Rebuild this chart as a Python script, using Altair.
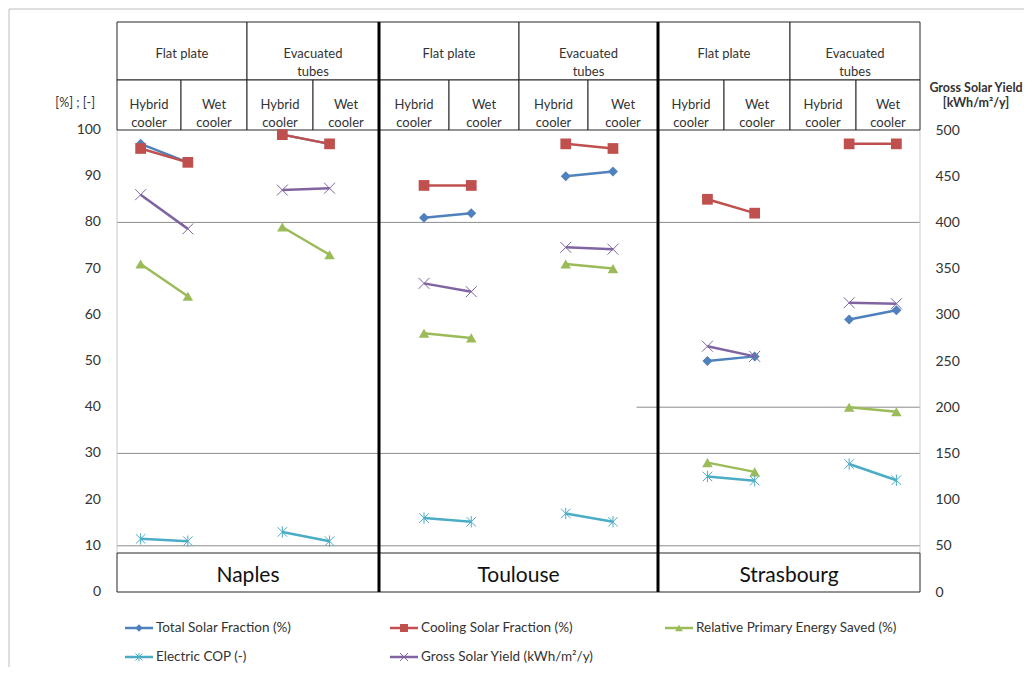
import altair as alt
import pandas as pd

# ---------------- data ----------------
cities = ["Naples", "Toulouse", "Strasbourg"]
collectors = ["Flat plate", "Evacuated\ntubes"]
coolers = ["Hybrid\ncooler", "Wet\ncooler"]

# order: per city -> Flat plate (Hybrid, Wet), Evacuated tubes (Hybrid, Wet)
total_solar_fraction = [97, 93, 99, 97, 81, 82, 90, 91, 50, 51, 59, 61]
cooling_solar_fraction = [96, 93, 99, 97, 88, 88, 97, 96, 85, 82, 97, 97]
primary_energy_saved = [71, 64, 79, 73, 56, 55, 71, 70, 28, 26, 40, 39]
electric_cop = [11.5, 11, 13, 11, 16, 15.2, 17, 15.2, 25, 24.1, 27.7, 24.2]
gross_solar_yield = [430, 393, 435, 437, 334, 325, 373, 371, 266, 255, 313, 312]

series_names = [
    "Total Solar Fraction (%)",
    "Cooling Solar Fraction (%)",
    "Relative Primary Energy Saved (%)",
    "Electric COP (-)",
    "Gross Solar Yield (kWh/m²/y)",
]

left_ticks = list(range(0, 101, 10))
right_ticks = list(range(0, 501, 50))

# ---------------- layout / style ----------------
FONT = "Lato"
TXT = "#333333"
W, H = 803, 570
PX_X = W / 17.0
PX_Y = 4.62
YMAX = H / PX_Y
slots = [0, 1, 3, 4, 6, 7, 9, 10, 12, 13, 15, 16]
colors = ["#4F81BD", "#C0504D", "#9BBB59", "#4BACC6", "#8064A2"]
XSHAPE = "M-1,-1L1,1M-1,1L1,-1"
STAR = "M-1,-1L1,1M-1,1L1,-1M0,-1.2L0,1.2"
shapes = ["diamond", "square", "triangle-up", STAR, XSHAPE]
sizes = [100, 115, 110, 90, 120]
filled = [True, True, True, False, False]

def ux(px):
    return (px - 117) / PX_X

def uy(px):
    return (592 - px) / PX_Y

XS = alt.Scale(domain=[0, 17], nice=False, zero=False)
YS = alt.Scale(domain=[0, YMAX], nice=False, zero=False)
YS_R = alt.Scale(domain=[0, YMAX * 5], nice=False, zero=False)

values = [total_solar_fraction, cooling_solar_fraction, primary_energy_saved,
          electric_cop, gross_solar_yield]
rows = []
for s, vals in zip(series_names, values):
    for j, v in enumerate(vals):
        rows.append({"series": s, "slot": slots[j] + 0.5, "value": v, "group": j // 2})
df = pd.DataFrame(rows)

# ---------------- table ----------------
city_edges = [[0, ux(181), ux(247), ux(313), ux(379)],
              [ux(379), ux(449), ux(519), ux(588), ux(658)],
              [ux(658), ux(724), ux(790), ux(856), 17]]
r1_top, r1_bot, r2_bot = YMAX, uy(80), 100
box_top = uy(553)

top_cells, sub_cells, city_boxes = [], [], []
for ci, c in enumerate(cities):
    e = city_edges[ci]
    for k, col in enumerate(collectors):
        top_cells.append({"x": e[2 * k], "x2": e[2 * k + 2], "label": col})
        for m, cool in enumerate(coolers):
            sub_cells.append({"x": e[2 * k + m], "x2": e[2 * k + m + 1], "label": cool})
    city_boxes.append({"x": e[0], "x2": e[4], "label": c})
top_df = pd.DataFrame(top_cells)
top_df["xm"] = (top_df.x + top_df.x2) / 2
sub_df = pd.DataFrame(sub_cells)
sub_df["xm"] = (sub_df.x + sub_df.x2) / 2
box_df = pd.DataFrame(city_boxes)
box_df["xm"] = (box_df.x + box_df.x2) / 2

X = lambda f: alt.X(f, scale=XS, axis=None)
Y = lambda f: alt.Y(f, scale=YS, axis=None)

layers = []

# frame lines
frame = pd.DataFrame([
    {"x": ux(9), "x2": ux(1031), "y": uy(9), "y2": uy(9)},
    {"x": ux(9), "x2": ux(9), "y": uy(9), "y2": uy(667)},
])
layers.append(alt.Chart(frame).mark_rule(color="#bfbfbf", strokeWidth=1).encode(
    x=X("x:Q"), x2="x2:Q", y=Y("y:Q"), y2="y2:Q"))

# gridlines
grid = pd.DataFrame([
    {"x": 0, "x2": 17, "y": 10},
    {"x": 0, "x2": 17, "y": 30},
    {"x": 0, "x2": 17, "y": 80},
    {"x": 11.0, "x2": 17, "y": 40},
])
layers.append(alt.Chart(grid).mark_rule(color="#8c8c8c", strokeWidth=1).encode(
    x=X("x:Q"), x2="x2:Q", y=Y("y:Q")))

# axis lines (light)
axl = pd.DataFrame([{"x": 0, "y": box_top, "y2": 100}, {"x": 17, "y": box_top, "y2": 100}])
layers.append(alt.Chart(axl).mark_rule(color="#c8c8c8", strokeWidth=1).encode(
    x=X("x:Q"), y=Y("y:Q"), y2="y2:Q"))

# left axis labels
axis_df = pd.DataFrame({"v": left_ticks})
axis_df["x"] = ux(101)
layers.append(alt.Chart(axis_df).mark_text(font=FONT, fontSize=14, color=TXT, align="right",
    baseline="middle").encode(x=X("x:Q"), y=Y("v:Q"), text="v:Q"))

# table rects
for d, y1, y2 in [(top_df, r1_bot, r1_top), (sub_df, r2_bot, r1_bot), (box_df, 0, box_top)]:
    layers.append(alt.Chart(d).mark_rect(fill="white", stroke="#262626", strokeWidth=1).encode(
        x=X("x:Q"), x2="x2:Q", y=alt.Y("y1:Q", scale=YS, axis=None), y2="y2:Q"
    ).transform_calculate(y1=str(y1), y2=str(y2)))

layers.append(alt.Chart(top_df).mark_text(font=FONT, fontSize=13, color=TXT, lineBreak="\n",
    lineHeight=18, baseline="middle").encode(
    x=X("xm:Q"), y=alt.Y("yy:Q", scale=YS, axis=None), text="label:N"
).transform_calculate(yy=str(uy(54))))
layers.append(alt.Chart(sub_df).mark_text(font=FONT, fontSize=13, color=TXT, lineBreak="\n",
    lineHeight=18, baseline="middle").encode(
    x=X("xm:Q"), y=alt.Y("yy:Q", scale=YS, axis=None), text="label:N"
).transform_calculate(yy=str(uy(105))))
layers.append(alt.Chart(box_df).mark_text(font=FONT, fontSize=21, color="#111111",
    baseline="middle").encode(
    x=X("xm:Q"), y=alt.Y("yy:Q", scale=YS, axis=None), text="label:N"
).transform_calculate(yy=str(uy(576))))

# thick separators
sep = pd.DataFrame({"x": [city_edges[1][0], city_edges[2][0]]})
layers.append(alt.Chart(sep).mark_rule(color="black", strokeWidth=3).encode(
    x=X("x:Q"), y=alt.Y("y0:Q", scale=YS, axis=None), y2="y1:Q"
).transform_calculate(y0="0", y1=str(YMAX)))

# axis titles
titles = pd.DataFrame([
    {"x": ux(95), "y": uy(103), "t": "[%] ; [-]", "w": "normal"},
    {"x": ux(976), "y": uy(88), "t": "Gross Solar Yield", "w": "bold"},
    {"x": ux(976), "y": uy(103), "t": "[kWh/m²/y]", "w": "bold"},
])
layers.append(alt.Chart(titles).transform_filter(alt.datum.w == "normal").mark_text(
    font=FONT, fontSize=12.5, color=TXT, align="right", baseline="middle").encode(
    x=X("x:Q"), y=Y("y:Q"), text="t:N"))
layers.append(alt.Chart(titles).transform_filter(alt.datum.w == "bold").mark_text(
    font=FONT, fontSize=12.5, color=TXT, align="center", baseline="middle",
    fontWeight="bold").encode(x=X("x:Q"), y=Y("y:Q"), text="t:N"))

# data series (left axis)
for i in range(4):
    name = series_names[i]
    base = alt.Chart(df).transform_filter(alt.datum.series == name)
    layers.append(base.mark_line(color=colors[i], strokeWidth=2.5).encode(
        x=X("slot:Q"), y=Y("value:Q"), detail="group:N"))
    layers.append(base.mark_point(shape=shapes[i], filled=filled[i], size=sizes[i],
        color=colors[i], opacity=1, strokeWidth=1).encode(
        x=X("slot:Q"), y=Y("value:Q")))

# legend
leg_pos = [(125, 628), (390, 628), (665, 628), (125, 657), (390, 657)]
leg = pd.DataFrame([{"series": s, "lx": ux(p[0]), "lx2": ux(p[0] + 28), "mx": ux(p[0] + 14),
                     "tx": ux(p[0] + 31), "ly": uy(p[1])} for s, p in zip(series_names, leg_pos)])
for i, s in enumerate(series_names):
    b = alt.Chart(leg).transform_filter(alt.datum.series == s)
    layers.append(b.mark_rule(color=colors[i], strokeWidth=2.5).encode(
        x=X("lx:Q"), x2="lx2:Q", y=Y("ly:Q")))
    layers.append(b.mark_point(shape=shapes[i], filled=filled[i], size=sizes[i] * 0.55,
        color=colors[i], opacity=1, strokeWidth=1).encode(x=X("mx:Q"), y=Y("ly:Q")))
layers.append(alt.Chart(leg).mark_text(font=FONT, fontSize=13.5, color=TXT, align="left",
    baseline="middle").encode(x=X("tx:Q"), y=Y("ly:Q"), text="series:N"))

left = alt.layer(*layers)

# right axis series: Gross Solar Yield
gsy = alt.Chart(df).transform_filter(alt.datum.series == series_names[4])
right = alt.layer(
    gsy.mark_line(color=colors[4], strokeWidth=2.5).encode(
        x=X("slot:Q"),
        y=alt.Y("value:Q", scale=YS_R, axis=alt.Axis(orient="right", values=right_ticks,
            domain=False, ticks=False, grid=False, title=None, labelPadding=15,
            labelFontSize=14, labelFont=FONT, labelColor=TXT)),
        detail="group:N"),
    gsy.mark_point(shape=XSHAPE, filled=False, size=sizes[4], color=colors[4], opacity=1,
        strokeWidth=1).encode(x=X("slot:Q"), y=alt.Y("value:Q", scale=YS_R)),
)

chart = alt.layer(left, right).resolve_scale(y="independent").properties(
    width=W, height=H,
    autosize=alt.AutoSizeParams(type="none"),
    padding={"left": 109, "top": 14, "right": 104, "bottom": 75},
).configure_view(strokeWidth=0)

chart.save("out.html", embed_options={"renderer": "svg", "actions": False})
